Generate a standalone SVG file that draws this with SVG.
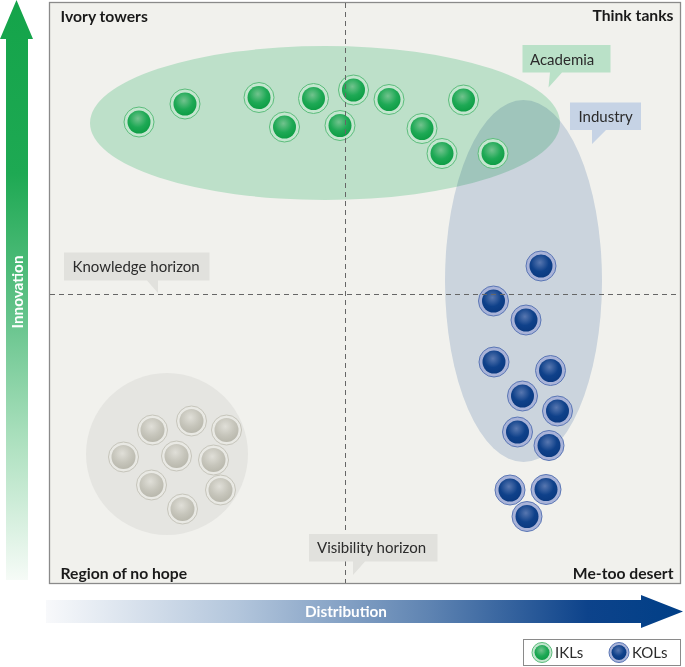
<svg xmlns="http://www.w3.org/2000/svg" xmlns:xlink="http://www.w3.org/1999/xlink" width="685" height="667" viewBox="0 0 685 667">
<style>
.hd{font-family:Lato,"Liberation Sans",sans-serif;font-weight:700;font-size:15.7px;fill:#1a1a1a}
.cl{font-family:Lato,"Liberation Sans",sans-serif;font-size:15px;fill:#2b2b2b}
.lg{font-family:Lato,"Liberation Sans",sans-serif;font-size:15px;fill:#2b2b2b}
.ax{font-family:Lato,"Liberation Sans",sans-serif;font-weight:700;font-size:15.3px;fill:#ffffff}
.dash{stroke:#666;stroke-width:1;stroke-dasharray:5 4;fill:none}
</style>
<defs>
<linearGradient id="gArrowV" x1="0" y1="0" x2="0" y2="1">
<stop offset="0" stop-color="#14a44a"/>
<stop offset="0.3" stop-color="#1ea953"/>
<stop offset="0.55" stop-color="#66c48c"/>
<stop offset="0.75" stop-color="#a9dfbc"/>
<stop offset="1" stop-color="#f6fbf7"/>
</linearGradient>
<linearGradient id="gArrowH" x1="0" y1="0" x2="1" y2="0">
<stop offset="0" stop-color="#f8f9fb"/>
<stop offset="0.3" stop-color="#b3c6dc"/>
<stop offset="0.6" stop-color="#5f84b2"/>
<stop offset="0.85" stop-color="#0d438b"/>
<stop offset="1" stop-color="#003f87"/>
</linearGradient>
<radialGradient id="gG" cx="0.45" cy="0.35" r="0.65">
<stop offset="0" stop-color="#72c38e"/>
<stop offset="0.6" stop-color="#1ea955"/>
<stop offset="1" stop-color="#0e9d45"/>
</radialGradient>
<radialGradient id="gB" cx="0.45" cy="0.35" r="0.65">
<stop offset="0" stop-color="#5877b0"/>
<stop offset="0.6" stop-color="#0f418a"/>
<stop offset="1" stop-color="#0a3980"/>
</radialGradient>
<radialGradient id="gR" cx="0.45" cy="0.35" r="0.65">
<stop offset="0" stop-color="#e0dfd8"/>
<stop offset="0.6" stop-color="#c6c5bb"/>
<stop offset="1" stop-color="#b9b8ad"/>
</radialGradient>
<g id="ikl"><circle r="15" fill="#c4e6cf" stroke="#5cbd7c" stroke-width="1"/><circle r="11.5" fill="url(#gG)"/></g>
<g id="kol"><circle r="15" fill="#a9b3d8" stroke="#5a76b5" stroke-width="1"/><circle r="11.5" fill="url(#gB)"/></g>
<g id="gry"><circle r="15" fill="#e9e9e4" stroke="#c6c5bb" stroke-width="1"/><circle r="12" fill="url(#gR)"/></g>
</defs>

<!-- axes arrows -->
<g id="innovation-axis">
<path d="M6,580 L6,39 L0,39 L16.5,0 L33,39 L28,39 L28,580 Z" fill="url(#gArrowV)"/>
<text class="ax" transform="translate(23,292) rotate(-90)" text-anchor="middle">Innovation</text>
</g>
<g id="distribution-axis">
<path d="M46,600 L641,600 L641,595 L683,611.5 L641,628 L641,623 L46,623 Z" fill="url(#gArrowH)"/>
<text class="ax" x="346" y="617" text-anchor="middle">Distribution</text>
</g>

<!-- main frame -->
<g id="frame">
<rect x="49.5" y="2.5" width="631" height="581" fill="#f1f1ed" stroke="#8a8a8a" stroke-width="1.3"/>
</g>

<!-- regions -->
<g id="academia-region">
<ellipse cx="325" cy="123" rx="235" ry="77" fill="#bde0c9"/>
</g>
<g id="industry-region">
<ellipse cx="523.5" cy="281" rx="78.5" ry="181" fill="#d7e1ee" style="mix-blend-mode:multiply"/>
</g>
<g id="no-hope-region">
<circle cx="167" cy="454" r="81" fill="#e5e5e1"/>
</g>

<!-- IKLs -->
<g id="ikl-1"><use xlink:href="#ikl" x="139" y="122"/></g>
<g id="ikl-2"><use xlink:href="#ikl" x="185" y="104"/></g>
<g id="ikl-3"><use xlink:href="#ikl" x="259" y="97.5"/></g>
<g id="ikl-4"><use xlink:href="#ikl" x="284.5" y="127"/></g>
<g id="ikl-5"><use xlink:href="#ikl" x="313.5" y="98.5"/></g>
<g id="ikl-6"><use xlink:href="#ikl" x="340" y="125.5"/></g>
<g id="ikl-7"><use xlink:href="#ikl" x="353.5" y="90"/></g>
<g id="ikl-8"><use xlink:href="#ikl" x="389" y="99.5"/></g>
<g id="ikl-9"><use xlink:href="#ikl" x="422" y="128.5"/></g>
<g id="ikl-10"><use xlink:href="#ikl" x="463.5" y="100"/></g>
<g id="ikl-11"><use xlink:href="#ikl" x="442" y="153.5"/></g>
<g id="ikl-12"><use xlink:href="#ikl" x="493" y="153.5"/></g>

<!-- KOLs -->
<g id="kol-1"><use xlink:href="#kol" x="541" y="266"/></g>
<g id="kol-2"><use xlink:href="#kol" x="493.5" y="301"/></g>
<g id="kol-3"><use xlink:href="#kol" x="526" y="320"/></g>
<g id="kol-4"><use xlink:href="#kol" x="494" y="362"/></g>
<g id="kol-5"><use xlink:href="#kol" x="550.5" y="370.5"/></g>
<g id="kol-6"><use xlink:href="#kol" x="522.5" y="396"/></g>
<g id="kol-7"><use xlink:href="#kol" x="557.5" y="411"/></g>
<g id="kol-8"><use xlink:href="#kol" x="517.5" y="432"/></g>
<g id="kol-9"><use xlink:href="#kol" x="549" y="445.5"/></g>
<g id="kol-10"><use xlink:href="#kol" x="510" y="490"/></g>
<g id="kol-11"><use xlink:href="#kol" x="546" y="489.5"/></g>
<g id="kol-12"><use xlink:href="#kol" x="527" y="516.5"/></g>

<!-- no-hope individuals -->
<g id="gry-1"><use xlink:href="#gry" x="152.5" y="430"/></g>
<g id="gry-2"><use xlink:href="#gry" x="191.5" y="421"/></g>
<g id="gry-3"><use xlink:href="#gry" x="226.5" y="430"/></g>
<g id="gry-4"><use xlink:href="#gry" x="123.5" y="457"/></g>
<g id="gry-5"><use xlink:href="#gry" x="176.5" y="456"/></g>
<g id="gry-6"><use xlink:href="#gry" x="213.5" y="460"/></g>
<g id="gry-7"><use xlink:href="#gry" x="151.5" y="485"/></g>
<g id="gry-8"><use xlink:href="#gry" x="220.5" y="490"/></g>
<g id="gry-9"><use xlink:href="#gry" x="182.5" y="509"/></g>

<!-- horizons -->
<g id="connectors">
<line class="dash" x1="345.5" y1="3" x2="345.5" y2="583"/>
<line class="dash" x1="50" y1="294.5" x2="680" y2="294.5"/>
</g>

<!-- callouts -->
<g id="academia-label">
<path d="M522.5,45 H610.5 V72.5 H562 L548.5,87.5 L550,72.5 H522.5 Z" fill="#bae1c8"/>
<text class="cl" x="530" y="64.5">Academia</text>
</g>
<g id="industry-label">
<path d="M570,102.5 H641 V130 H606 L592,144 V130 H570 Z" fill="#c6d3e5"/>
<text class="cl" x="578.5" y="122">Industry</text>
</g>
<g id="knowledge-horizon-label">
<path d="M64,252.5 H209.5 V280.5 H158 V293 L147,280.5 H64 Z" fill="#e1e1dd"/>
<text class="cl" x="72.5" y="272">Knowledge horizon</text>
</g>
<g id="visibility-horizon-label">
<path d="M309,534 H437.5 V561.5 H365 L353,575 V561.5 H309 Z" fill="#e1e1dd"/>
<text class="cl" x="317" y="553">Visibility horizon</text>
</g>

<!-- quadrant labels -->
<g id="quadrant-labels">
<text class="hd" x="60.5" y="21.5">Ivory towers</text>
<text class="hd" x="673.5" y="21" text-anchor="end">Think tanks</text>
<text class="hd" x="60.5" y="579">Region of no hope</text>
<text class="hd" x="673.5" y="579" text-anchor="end">Me-too desert</text>
</g>

<!-- legend -->
<g id="legend">
<rect x="523.5" y="639.5" width="157" height="26" fill="#ffffff" stroke="#8a8a8a" stroke-width="1"/>
<circle cx="542" cy="652.5" r="10" fill="#c4e6cf" stroke="#5cbd7c" stroke-width="1"/>
<circle cx="542" cy="652.5" r="7.5" fill="url(#gG)"/>
<text class="lg" x="555" y="658">IKLs</text>
<circle cx="619" cy="652.5" r="10" fill="#a9b3d8" stroke="#5a76b5" stroke-width="1"/>
<circle cx="619" cy="652.5" r="7.5" fill="url(#gB)"/>
<text class="lg" x="632" y="658">KOLs</text>
</g>
</svg>
